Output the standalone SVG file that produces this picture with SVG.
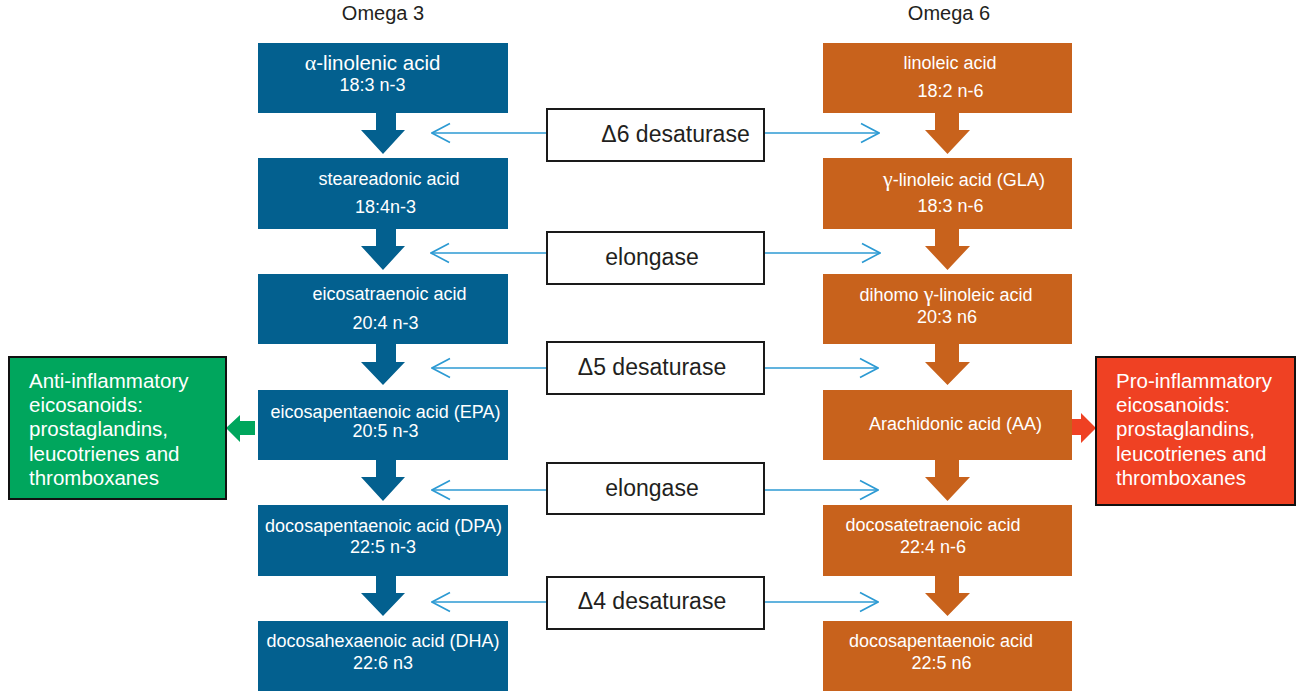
<svg xmlns="http://www.w3.org/2000/svg" width="1297" height="692" viewBox="0 0 1297 692">
<style>
  .bl{fill:#03608F}
  .or{fill:#C8621C}
  .nt{font-family:"Liberation Sans",Arial,sans-serif;font-size:18px;fill:#FFFFFF;text-anchor:middle}
  .big{font-size:20.5px}
  .gk{font-family:"Liberation Serif","Times New Roman",serif;font-size:22px}
  .en{fill:#FFFFFF;stroke:#1A1A1A;stroke-width:2}
  .et{font-family:"Liberation Sans",Arial,sans-serif;font-size:23px;fill:#231F20;text-anchor:middle}
  .tt{font-family:"Liberation Sans",Arial,sans-serif;font-size:20px;fill:#231F20;text-anchor:middle}
  .st{font-family:"Liberation Sans",Arial,sans-serif;font-size:20.5px;fill:#FFFFFF}
  .ln{stroke:#2C9AD3;stroke-width:1.6;fill:none;marker-end:url(#chev)}
</style>
<defs>
  <marker id="chev" viewBox="0 0 20 22" refX="19" refY="11" markerWidth="20" markerHeight="22" markerUnits="userSpaceOnUse" orient="auto">
    <path d="M1,1.5 L19,11 L1,20.5" fill="none" stroke="#2C9AD3" stroke-width="1.6"/>
  </marker>
</defs>
<rect width="1297" height="692" fill="#FFFFFF"/>

<text class="tt" x="383" y="20">Omega 3</text>
<text class="tt" x="949" y="20">Omega 6</text>

<g id="connectors">
  <g class="bl">
    <path d="M376,113 H396 V130 H405 L383,154 L361,130 H376 Z"/>
    <path d="M376,229 H396 V246 H405 L383,270 L361,246 H376 Z"/>
    <path d="M376,344 H396 V362 H405 L383,385 L361,362 H376 Z"/>
    <path d="M376,460 H396 V477 H405 L383,501 L361,477 H376 Z"/>
    <path d="M376,576 H396 V593 H405 L383,616 L361,593 H376 Z"/>
  </g>
  <g class="or">
    <path d="M935,113 H959 V130 H970 L947.5,154 L925,130 H935 Z"/>
    <path d="M935,229 H959 V246 H970 L947.5,270 L925,246 H935 Z"/>
    <path d="M935,344 H959 V362 H970 L947.5,385 L925,362 H935 Z"/>
    <path d="M935,460 H959 V477 H970 L947.5,501 L925,477 H935 Z"/>
    <path d="M935,576 H959 V593 H970 L947.5,616 L925,593 H935 Z"/>
  </g>
  <line class="ln" x1="547" y1="133" x2="432" y2="133"/>
  <line class="ln" x1="764" y1="133" x2="879" y2="133"/>
  <line class="ln" x1="547" y1="253" x2="431" y2="253"/>
  <line class="ln" x1="764" y1="253" x2="880" y2="253"/>
  <line class="ln" x1="547" y1="368" x2="432" y2="368"/>
  <line class="ln" x1="764" y1="368" x2="878" y2="368"/>
  <line class="ln" x1="547" y1="490" x2="432" y2="490"/>
  <line class="ln" x1="764" y1="490" x2="878" y2="490"/>
  <line class="ln" x1="547" y1="602" x2="432" y2="602"/>
  <line class="ln" x1="764" y1="602" x2="878" y2="602"/>
  <path d="M255,421 V435 H240 V442 L226,428 L240,415 V421 Z" fill="#00A65D"/>
  <path d="M1059,419 H1081 V413 L1096,428 L1081,443 V435 H1059 Z" fill="#EF4123"/>
</g>

<g id="ala">
  <rect class="bl" x="258" y="43" width="250" height="70"/>
  <text class="nt big" x="372.5" y="70"><tspan class="gk">α</tspan>-linolenic acid</text>
  <text class="nt" x="372.5" y="91">18:3 n-3</text>
</g>
<g id="sda">
  <rect class="bl" x="258" y="158" width="250" height="71"/>
  <text class="nt" x="389" y="185">steareadonic acid</text>
  <text class="nt" x="385.5" y="213">18:4n-3</text>
</g>
<g id="eta">
  <rect class="bl" x="258" y="274" width="250" height="70"/>
  <text class="nt" x="389.5" y="300">eicosatraenoic acid</text>
  <text class="nt" x="385.5" y="329">20:4 n-3</text>
</g>
<g id="epa">
  <rect class="bl" x="258" y="390" width="250" height="70"/>
  <text class="nt" x="385.5" y="418">eicosapentaenoic acid (EPA)</text>
  <text class="nt" x="385.5" y="437">20:5 n-3</text>
</g>
<g id="dpa3">
  <rect class="bl" x="258" y="505" width="250" height="71"/>
  <text class="nt" x="383.5" y="532">docosapentaenoic acid (DPA)</text>
  <text class="nt" x="383" y="553">22:5 n-3</text>
</g>
<g id="dha">
  <rect class="bl" x="258" y="621" width="250" height="70"/>
  <text class="nt" x="383" y="647">docosahexaenoic acid (DHA)</text>
  <text class="nt" x="383" y="669">22:6 n3</text>
</g>

<g id="la">
  <rect class="or" x="823" y="43" width="249" height="70"/>
  <text class="nt" x="950" y="69">linoleic acid</text>
  <text class="nt" x="950.5" y="97">18:2 n-6</text>
</g>
<g id="gla">
  <rect class="or" x="823" y="158" width="249" height="71"/>
  <text class="nt" x="964" y="186"><tspan class="gk">γ</tspan>-linoleic acid (GLA)</text>
  <text class="nt" x="950.5" y="212">18:3 n-6</text>
</g>
<g id="dgla">
  <rect class="or" x="823" y="274" width="249" height="70"/>
  <text class="nt" x="946" y="301">dihomo <tspan class="gk">γ</tspan>-linoleic acid</text>
  <text class="nt" x="947" y="323">20:3 n6</text>
</g>
<g id="aa">
  <rect class="or" x="823" y="390" width="249" height="70"/>
  <text class="nt" x="955.5" y="430">Arachidonic acid (AA)</text>
</g>
<g id="dta">
  <rect class="or" x="823" y="505" width="249" height="71"/>
  <text class="nt" x="933" y="531">docosatetraenoic acid</text>
  <text class="nt" x="933" y="553">22:4 n-6</text>
</g>
<g id="dpa6">
  <rect class="or" x="823" y="621" width="249" height="70"/>
  <text class="nt" x="941" y="647">docosapentaenoic acid</text>
  <text class="nt" x="941.5" y="669">22:5 n6</text>
</g>

<g id="d6">
  <rect class="en" x="547" y="109" width="217" height="52"/>
  <text class="et" x="675.5" y="142">Δ6 desaturase</text>
</g>
<g id="elo1">
  <rect class="en" x="547" y="232" width="217" height="52"/>
  <text class="et" x="652" y="265">elongase</text>
</g>
<g id="d5">
  <rect class="en" x="547" y="342" width="217" height="52"/>
  <text class="et" x="652" y="375">Δ5 desaturase</text>
</g>
<g id="elo2">
  <rect class="en" x="547" y="463" width="217" height="51"/>
  <text class="et" x="652" y="496">elongase</text>
</g>
<g id="d4">
  <rect class="en" x="547" y="577" width="217" height="52"/>
  <text class="et" x="652" y="609">Δ4 desaturase</text>
</g>

<g id="anti">
  <rect x="9" y="357" width="217" height="142" fill="#00A65D" stroke="#111111" stroke-width="2"/>
  <text class="st" x="29" y="388">Anti-inflammatory</text>
  <text class="st" x="29" y="412">eicosanoids:</text>
  <text class="st" x="29" y="436">prostaglandins,</text>
  <text class="st" x="29" y="461">leucotrienes and</text>
  <text class="st" x="29" y="485">thromboxanes</text>
</g>
<g id="pro">
  <rect x="1096" y="357" width="199" height="148" fill="#EF4123" stroke="#111111" stroke-width="2"/>
  <text class="st" x="1116" y="388">Pro-inflammatory</text>
  <text class="st" x="1116" y="412">eicosanoids:</text>
  <text class="st" x="1116" y="436">prostaglandins,</text>
  <text class="st" x="1116" y="461">leucotrienes and</text>
  <text class="st" x="1116" y="485">thromboxanes</text>
</g>
</svg>
